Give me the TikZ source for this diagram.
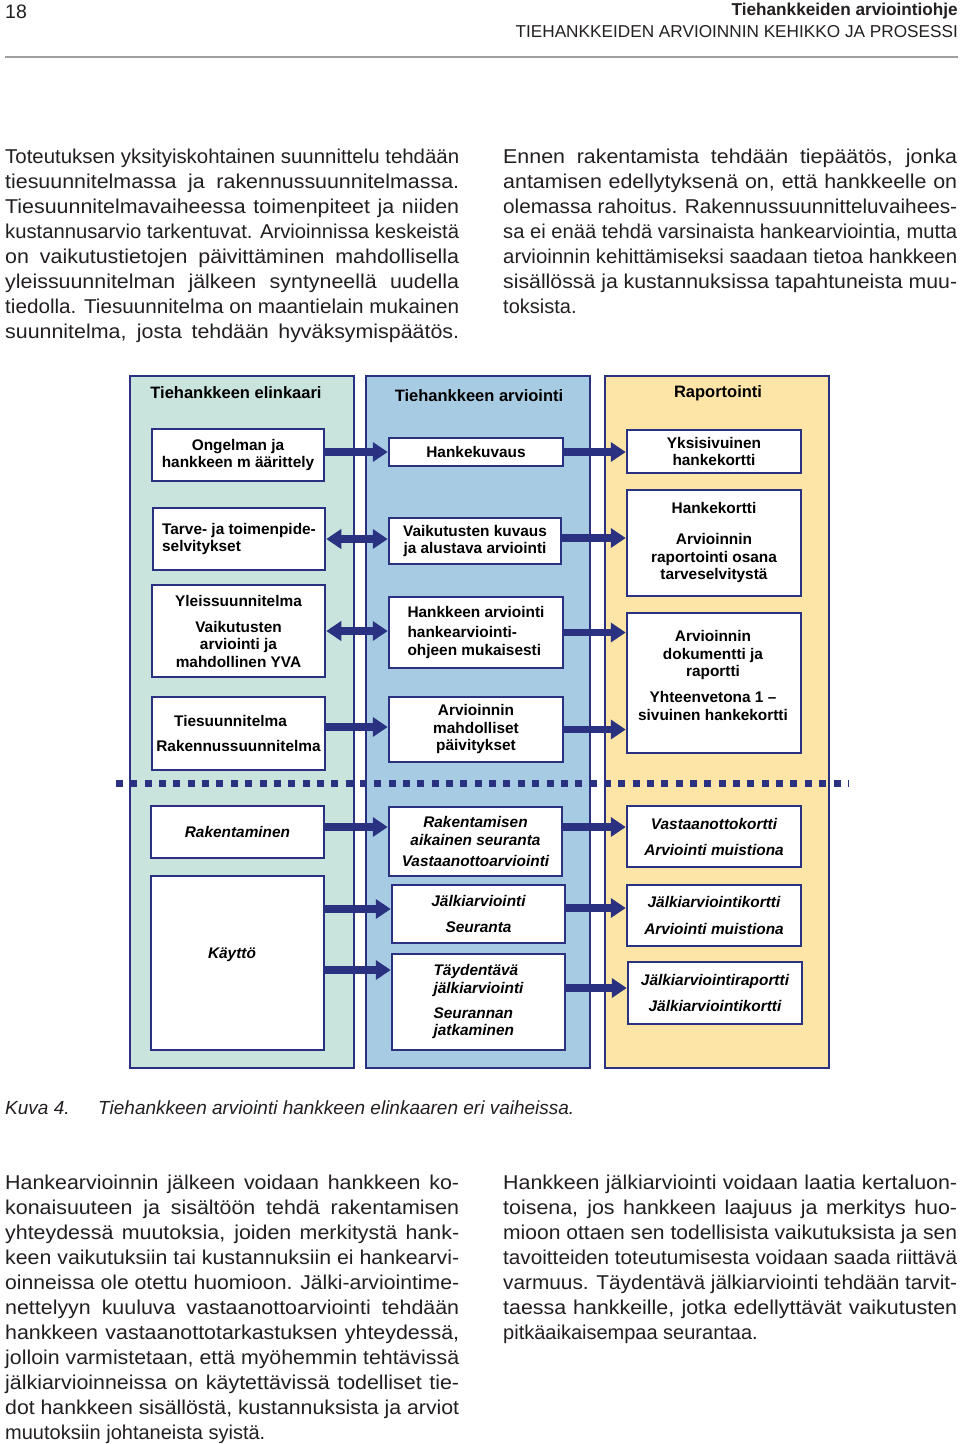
\documentclass[tikz,border=0pt]{standalone}
\usepackage{fontspec}
\usepackage{graphicx}
\setmainfont{Liberation Sans}
\usetikzlibrary{arrows.meta,calc}
\definecolor{navy}{RGB}{41,49,128}
\definecolor{cA}{RGB}{200,228,220}
\definecolor{cB}{RGB}{168,203,228}
\definecolor{cC}{RGB}{252,229,167}
\definecolor{ink}{RGB}{35,31,32}
\newlength\jlw
\newcommand\jl[1]{\settowidth\jlw{#1}%
 \pgfmathsetmacro\jlf{min(1.07,454/\jlw)}%
 \pgfmathsetmacro\jlin{454/\jlf}%
 \scalebox{\jlf}[1]{\makebox[\jlin pt][s]{#1}}}
\begin{document}
\begin{tikzpicture}[x=1pt,y=-1pt,
 body/.style={anchor=base west, inner sep=0pt, text=ink, font=\fontsize{20}{25}\selectfont},
 col/.style={draw=navy, line width=2.5pt, minimum width=224pt, minimum height=692pt, inner sep=0pt},
 bx/.style={draw=navy, line width=2.5pt, fill=white, inner sep=0pt, align=center, text=black, font=\bfseries\fontsize{15.4}{17.5}\selectfont},
 bxi/.style={bx, font=\bfseries\itshape\fontsize{15.4}{17.5}\selectfont},
 tx/.style={inner sep=0pt, align=center, text=black, font=\bfseries\fontsize{15.4}{17.5}\selectfont},
 hd/.style={inner sep=0pt, text=black, font=\bfseries\fontsize{16.5}{20}\selectfont},
 arr/.style={navy, line width=7.5pt, -{Triangle[length=15pt,width=19pt]}},
 darr/.style={navy, line width=7.5pt, {Triangle[length=15pt,width=19pt]}-{Triangle[length=15pt,width=19pt]}},
]
\useasboundingbox[fill=white] (0,0) rectangle (960,1444);

% header
\node[anchor=base west, inner sep=0pt, text=ink, font=\fontsize{19.5}{20}\selectfont] (pg) at (5,18) {18};
\node[anchor=base east, inner sep=0pt, text=ink, font=\bfseries\fontsize{17.2}{20}\selectfont] (ht1) at (958,15) {Tiehankkeiden arviointiohje};
\node[anchor=base east, inner sep=0pt, text=ink, font=\fontsize{17.2}{20}\selectfont] (ht2) at (958,37) {TIEHANKKEIDEN ARVIOINNIN KEHIKKO JA PROSESSI};
\coordinate (rl) at (5,57);
\coordinate (rr) at (958,57);
\draw[gray!75, line width=1.3pt] (rl) -- (rr);

% top paragraphs
\foreach \t [count=\i] in {
 {Toteutuksen yksityiskohtainen suunnittelu tehdään},
 {tiesuunnitelmassa ja rakennussuunnitelmassa.},
 {Tiesuunnitelmavaiheessa toimenpiteet ja niiden},
 {kustannusarvio tarkentuvat. Arvioinnissa keskeistä},
 {on vaikutustietojen päivittäminen mahdollisella},
 {yleissuunnitelman jälkeen syntyneellä uudella},
 {tiedolla. Tiesuunnitelma on maantielain mukainen},
 {suunnitelma, josta tehdään hyväksymispäätös.}}
 \node[body] (tl\i) at (5,{163+25*(\i-1)}) {\jl{\t}};

\foreach \t [count=\i] in {
 {Ennen rakentamista tehdään tiepäätös, jonka},
 {antamisen edellytyksenä on, että hankkeelle on},
 {olemassa rahoitus. Rakennussuunnitteluvaihees-},
 {sa ei enää tehdä varsinaista hankearviointia, mutta},
 {arvioinnin kehittämiseksi saadaan tietoa hankkeen},
 {sisällössä ja kustannuksissa tapahtuneista muu-}}
 \node[body] (tr\i) at (503,{163+25*(\i-1)}) {\jl{\t}};
\node[body] (tr7) at (503,313) {toksista.};

% columns
\node[col, fill=cA] (c1) at (242,722) {};
\node[col, fill=cB] (c2) at (478,722) {};
\node[col, fill=cC] (c3) at (717,722) {};
\node[hd] (h1) at (236,393) {Tiehankkeen elinkaari};
\node[hd] (h2) at (479,396) {Tiehankkeen arviointi};
\node[hd] (h3) at (718,393) {Raportointi};

% dotted separator
\coordinate (dl) at (116,783.5);
\coordinate (dr) at (848,783.5);
\draw[navy, line width=7pt, dash pattern=on 7pt off 7.35pt] (dl) -- (dr);

% boxes column 1
\node[bx, minimum width=172pt, minimum height=52pt] (ong) at (238,455) {Ongelman ja\\hankkeen m äärittely};
\node[bx, align=left, minimum width=172pt, minimum height=62pt] (tarve) at (239,539) {Tarve- ja toimenpide-\\selvitykset};
\node[bx, minimum width=173pt, minimum height=92pt] (yleis) at (238.5,631) {Yleissuunnitelma\\[8.5pt]Vaikutusten\\arviointi ja\\mahdollinen YVA};
\node[bx, minimum width=173pt, minimum height=73pt] (ties) at (238.5,733.5) {\hspace*{-16pt}Tiesuunnitelma\\[7.5pt]Rakennussuunnitelma};
\node[bxi, minimum width=173pt, minimum height=52pt] (rak) at (237.5,832) {Rakentaminen};
\node[bx, minimum width=173pt, minimum height=174pt] (kay) at (237.5,963) {};
\node[tx, font=\bfseries\itshape\fontsize{15.4}{17.5}\selectfont] (kayt) at (232,955) {Käyttö};

% boxes column 2
\node[bx, minimum width=174pt, minimum height=28pt] (hk) at (476,452) {Hankekuvaus};
\node[bx, minimum width=172pt, minimum height=46pt] (vk) at (475,541) {Vaikutusten kuvaus\\ja alustava arviointi};
\node[bx, align=left, minimum width=174pt, minimum height=71pt] (ha) at (476,632.5) {Hankkeen arviointi\\[2.5pt]hankearviointi-\\ohjeen mukaisesti};
\node[bx, minimum width=174pt, minimum height=65pt] (am) at (476,729.5) {Arvioinnin\\mahdolliset\\päivitykset};
\node[bxi, minimum width=173pt, minimum height=69pt] (rs) at (475.5,841.5) {Rakentamisen\\aikainen seuranta\\[3.5pt]Vastaanottoarviointi};
\node[bxi, minimum width=173pt, minimum height=58pt] (ja) at (478.5,914) {Jälkiarviointi\\[8.5pt]Seuranta};
\node[bxi, align=left, minimum width=173pt, minimum height=96pt] (td) at (478.5,1002) {Täydentävä\\jälkiarviointi\\[7.5pt]Seurannan\\jatkaminen};

% boxes column 3
\node[bx, minimum width=174pt, minimum height=43pt] (yk) at (714,451.5) {Yksisivuinen\\hankekortti};
\node[bx, minimum width=174pt, minimum height=106pt] (hkk) at (714,543) {Hankekortti\\[13.5pt]Arvioinnin\\raportointi osana\\tarveselvitystä};
\node[bx, minimum width=174pt, minimum height=140pt] (ad) at (714,683) {};
\node[tx] (adt) at (713,675.5) {Arvioinnin\\dokumentti ja\\raportti\\[8.5pt]Yhteenvetona 1 –\\sivuinen hankekortti};
\node[bxi, minimum width=174pt, minimum height=61pt] (vo) at (714,836.5) {Vastaanottokortti\\[8.5pt]Arviointi muistiona};
\node[bxi, minimum width=174pt, minimum height=61pt] (jk) at (714,915.5) {Jälkiarviointikortti\\[9.5pt]Arviointi muistiona};
\node[bxi, minimum width=174pt, minimum height=62pt] (jr) at (715,993) {Jälkiarviointiraportti\\[8.5pt]Jälkiarviointikortti};

% arrows
\draw[arr] (ong.east |- hk.west) -- (hk.west);
\draw[darr] (tarve.east) -- (tarve.east -| vk.west);
\draw[darr] (yleis.east) -- (yleis.east -| ha.west);
\draw[arr] (ties.east |- 0,727) -- (am.west |- 0,727);
\draw[arr] (hk.east) -- (hk.east -| yk.west);
\draw[arr] (vk.east |- 0,538) -- (hkk.west |- 0,538);
\draw[arr] (ha.east) -- (ha.east -| ad.west);
\draw[arr] (am.east) -- (am.east -| ad.west);
\draw[arr] (rak.east |- 0,827) -- (rs.west |- 0,827);
\draw[arr] (kay.east |- 0,909) -- (ja.west |- 0,909);
\draw[arr] (kay.east |- 0,970) -- (td.west |- 0,970);
\draw[arr] (rs.east |- 0,827) -- (vo.west |- 0,827);
\draw[arr] (ja.east |- 0,908) -- (jk.west |- 0,908);
\draw[arr] (td.east |- 0,988) -- (jr.west |- 0,988);

% caption
\node[anchor=base west, inner sep=0pt, text=ink, font=\itshape\fontsize{19}{22}\selectfont] (cap1) at (5,1114) {Kuva 4.};
\node[anchor=base west, inner sep=0pt, text=ink, font=\itshape\fontsize{19}{22}\selectfont] (cap2) at (98,1114) {Tiehankkeen arviointi hankkeen elinkaaren eri vaiheissa.};

% bottom paragraphs
\foreach \t [count=\i] in {
 {Hankearvioinnin jälkeen voidaan hankkeen ko-},
 {konaisuuteen ja sisältöön tehdä rakentamisen},
 {yhteydessä muutoksia, joiden merkitystä hank-},
 {keen vaikutuksiin tai kustannuksiin ei hankearvi-},
 {oinneissa ole otettu huomioon. Jälki-arviointime-},
 {nettelyyn kuuluva vastaanottoarviointi tehdään},
 {hankkeen vastaanottotarkastuksen yhteydessä,},
 {jolloin varmistetaan, että myöhemmin tehtävissä},
 {jälkiarvioinneissa on käytettävissä todelliset tie-},
 {dot hankkeen sisällöstä, kustannuksista ja arviot}}
 \node[body] (bl\i) at (5,{1189+25*(\i-1)}) {\jl{\t}};
\node[body] (bl11) at (5,1439) {muutoksiin johtaneista syistä.};

\foreach \t [count=\i] in {
 {Hankkeen jälkiarviointi voidaan laatia kertaluon-},
 {toisena, jos hankkeen laajuus ja merkitys huo-},
 {mioon ottaen sen todellisista vaikutuksista ja sen},
 {tavoitteiden toteutumisesta voidaan saada riittävä},
 {varmuus. Täydentävä jälkiarviointi tehdään tarvit-},
 {taessa hankkeille, jotka edellyttävät vaikutusten}}
 \node[body] (br\i) at (503,{1189+25*(\i-1)}) {\jl{\t}};
\node[body] (br7) at (503,1339) {pitkäaikaisempaa seurantaa.};
\end{tikzpicture}
\end{document}
